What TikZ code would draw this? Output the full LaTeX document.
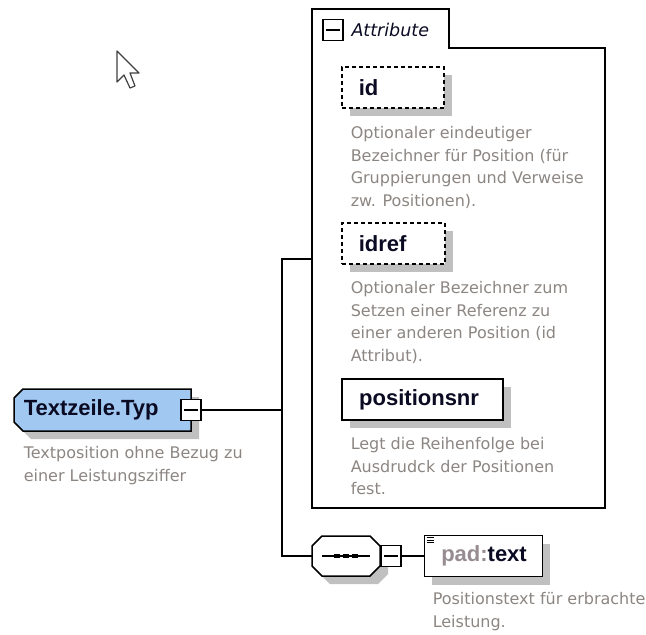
\documentclass[tikz,border=0pt]{standalone}
\usepackage{fontspec}
\setmainfont{DejaVu Sans}
\newfontfamily\labelfont{Liberation Sans}
\usetikzlibrary{positioning, shadows}
\definecolor{typblue}{RGB}{160,200,240}
\definecolor{shadowgray}{RGB}{192,192,192}
\definecolor{notegray}{RGB}{140,134,130}
\definecolor{labelnavy}{RGB}{10,10,35}
\definecolor{prefixgray}{RGB}{150,140,145}

\begin{document}
\begin{tikzpicture}[x=1pt, y=-1pt, line width=1.5pt,
  shade box/.style={drop shadow={shadow xshift=8pt, shadow yshift=-8pt, fill=shadowgray, opacity=1}},
  cast/.style={preaction={fill=shadowgray, transform canvas={shift={(8pt,-8pt)}}}},
  lbl/.style={text=labelnavy, font=\labelfont\bfseries\fontsize{22}{26}\selectfont},
  elem/.style={draw, fill=white, shade box, lbl, anchor=north west, minimum height=41pt,
    inner xsep=17pt, inner ysep=0pt, text width=#1, align=left},
  opt/.style={dash pattern=on 4pt off 3pt},
  note/.style={anchor=north west, align=left, inner sep=0pt, text=notegray,
    font=\fontsize{16}{22.5}\selectfont},
  frame/.style={anchor=north west, inner sep=0pt, outer sep=0pt},
  minusbox/.style={draw, fill=white, minimum width=20pt, minimum height=21pt, inner sep=0pt},
]
\useasboundingbox (0,0) rectangle (646,635);

\draw[line width=1.2pt, draw=black!75, fill=white, line join=round]
  (117,51) -- (117,82) -- (124,75) -- (130,88) -- (135,86) -- (130,73) -- (139,73) -- cycle;

\node[frame, minimum width=177pt, minimum height=42pt] (typ) at (14,389) {};
\draw[cast, fill=typblue] ([xshift=9pt]typ.north west) -- (typ.north east) -- (typ.south east)
  -- ([xshift=9pt]typ.south west) -- ([yshift=9pt]typ.south west) -- ([yshift=-9pt]typ.north west) -- cycle;
\node[lbl, anchor=west, inner sep=0pt] (typlbl) at ([xshift=9pt]typ.west) {Textzeile.Typ};
\node[minusbox] (typm) at (typ.east) {};
\node[note] (typnote) at (23,446) {Textposition ohne Bezug zu\\einer Leistungsziffer};

\node[frame, minimum width=293pt, minimum height=460pt] (attr) at (312,48) {};
\draw (attr.north west) -- ++(0,-39) -- ++(137,0) -- ++(0,39) -- (attr.north east)
  -- (attr.south east) -- (attr.south west) -- cycle;
\node[minusbox] (attrm) at (333,30) {};
\node[right=7pt of attrm, inner sep=0pt, text=labelnavy, font=\itshape\fontsize{17.5}{20}\selectfont]
  (attrlbl) {Attribute};

\node[elem=68pt, opt] (id) at (341,66) {id};
\node[note] (idnote) at (350,126) {Optionaler eindeutiger\\Bezeichner für Position (für\\Gruppierungen und Verweise\\zw. Positionen).};
\node[elem=69pt, opt] (idref) at (341,222) {idref};
\node[note] (idrefnote) at (350,281) {Optionaler Bezeichner zum\\Setzen einer Referenz zu\\einer anderen Position (id\\Attribut).};
\node[elem=127pt, line width=2.4pt] (posnr) at (341,378) {positionsnr};
\node[note] (posnrnote) at (350,437) {Legt die Reihenfolge bei\\Ausdrudck der Positionen\\fest.};

\node[frame, minimum width=68pt, minimum height=40pt] (seq) at (312,536) {};
\draw[cast, fill=white] ([xshift=10pt]seq.north west) -- ([xshift=-10pt]seq.north east)
  -- ([yshift=-10pt]seq.north east) -- ([yshift=10pt]seq.south east)
  -- ([xshift=-10pt]seq.south east) -- ([xshift=10pt]seq.south west)
  -- ([yshift=10pt]seq.south west) -- ([yshift=-10pt]seq.north west) -- cycle;
\draw ([xshift=10pt]seq.west) -- ([xshift=-10pt]seq.east);
\foreach \dx in {-12,-3,6}
  \fill ([shift={(\dx pt,2pt)}]seq.center) rectangle ++(6,4);
\node[minusbox, right=0pt of seq] (seqm) {};
\node[elem=84pt, right=22pt of seqm] (pad) {{\color{prefixgray}pad:}text};
\foreach \ly in {3,5.5,8}
  \draw[line width=0.8pt] ([shift={(3pt,-\ly pt)}]pad.north west) -- ++(7,0);
\node[note] (padnote) at (432,592) {Positionstext für erbrachte\\Leistung.};

\foreach \m in {typm, attrm, seqm}
  \draw ([xshift=4pt]\m.west) -- ([xshift=-4pt]\m.east);

\coordinate (attrin) at (312,259);
\coordinate (fork) at ([xshift=-30pt]attrin |- typm);
\draw (typm) -- (fork);
\draw (attrin) -| (fork) |- (seq.west);
\draw (seqm) -- (pad);
\end{tikzpicture}
\end{document}
